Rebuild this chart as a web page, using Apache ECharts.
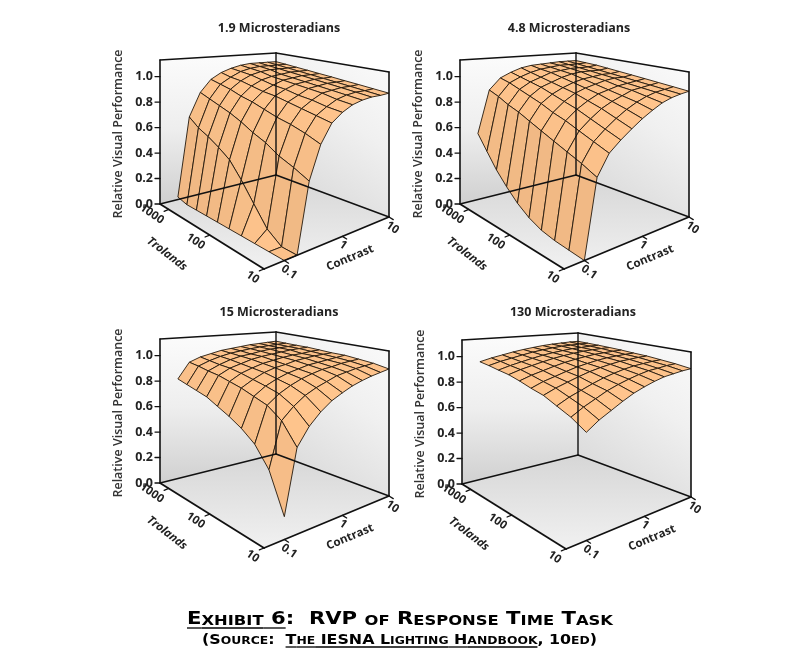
<!DOCTYPE html>
<html>
<head>
<meta charset="utf-8">
<title>RVP of Response Time Task</title>
<script src="https://cdn.jsdelivr.net/npm/echarts@6.0.0/dist/echarts.min.js"></script>
<style>
html,body{margin:0;padding:0;background:#ffffff;}
#chart{width:800px;height:659px;}
</style>
</head>
<body>
<div id="chart"></div>
<script>
// ---------------- DATA ----------------
// grid rows: log10(trolands); grid columns: log10(contrast)
const TROLAND_LOG = [1, 1.25, 1.5, 1.75, 2, 2.25, 2.5, 2.75, 3, 3.25];
const CONTRAST_LOG = [-1, -0.8, -0.6, -0.4, -0.2, 0, 0.2, 0.4, 0.6, 0.8, 1];

const PANEL_TITLES = ['1.9 Microsteradians', '4.8 Microsteradians', '15 Microsteradians', '130 Microsteradians'];

// Relative Visual Performance, one row per troland value, one column per contrast value
const RVP_1_9 = [
  [0.00, 0.00, 0.47, 0.70, 0.83, 0.89, 0.93, 0.95, 0.96, 0.96, 0.965],
  [0.00, 0.00, 0.52, 0.74, 0.85, 0.90, 0.94, 0.96, 0.97, 0.97, 0.974],
  [0.00, 0.07, 0.56, 0.77, 0.87, 0.92, 0.96, 0.97, 0.98, 0.98, 0.984],
  [0.00, 0.20, 0.62, 0.79, 0.89, 0.93, 0.97, 0.98, 0.99, 0.99, 0.993],
  [0.00, 0.33, 0.66, 0.82, 0.91, 0.95, 0.98, 0.99, 1.00, 1.00, 1.003],
  [0.00, 0.44, 0.71, 0.85, 0.92, 0.96, 0.99, 1.00, 1.01, 1.01, 1.012],
  [0.00, 0.50, 0.75, 0.87, 0.94, 0.98, 1.00, 1.01, 1.02, 1.02, 1.022],
  [0.00, 0.55, 0.78, 0.90, 0.96, 1.00, 1.02, 1.03, 1.03, 1.03, 1.031],
  [0.00, 0.59, 0.81, 0.92, 0.97, 1.01, 1.03, 1.04, 1.04, 1.04, 1.041],
  [0.02, 0.65, 0.84, 0.94, 0.99, 1.02, 1.04, 1.05, 1.05, 1.05, 1.050]
];
const RVP_4_8 = [
  [0.00, 0.52, 0.66, 0.73, 0.79, 0.845, 0.89, 0.93, 0.955, 0.97, 0.98],
  [0.01, 0.57, 0.70, 0.77, 0.83, 0.88, 0.92, 0.95, 0.97, 0.98, 0.99],
  [0.02, 0.61, 0.74, 0.81, 0.87, 0.91, 0.94, 0.97, 0.98, 0.99, 1.00],
  [0.04, 0.65, 0.78, 0.85, 0.90, 0.94, 0.96, 0.98, 0.99, 1.00, 1.01],
  [0.08, 0.69, 0.81, 0.88, 0.93, 0.96, 0.98, 1.00, 1.01, 1.01, 1.02],
  [0.14, 0.73, 0.85, 0.91, 0.95, 0.98, 1.00, 1.01, 1.02, 1.02, 1.03],
  [0.22, 0.77, 0.88, 0.94, 0.97, 1.00, 1.02, 1.03, 1.03, 1.03, 1.04],
  [0.31, 0.80, 0.91, 0.96, 0.99, 1.02, 1.03, 1.04, 1.04, 1.04, 1.05],
  [0.42, 0.84, 0.94, 0.98, 1.01, 1.03, 1.04, 1.05, 1.05, 1.05, 1.055],
  [0.53, 0.87, 0.96, 1.00, 1.03, 1.045, 1.05, 1.055, 1.06, 1.06, 1.06]
];
const RVP_15 = [
  [0.15, 0.58, 0.70, 0.78, 0.84, 0.88, 0.915, 0.94, 0.96, 0.975, 0.99],
  [0.41, 0.72, 0.80, 0.86, 0.90, 0.93, 0.96, 0.975, 0.99, 1.00, 1.01],
  [0.54, 0.79, 0.855, 0.90, 0.935, 0.96, 0.98, 0.99, 1.005, 1.013, 1.02],
  [0.61, 0.82, 0.88, 0.92, 0.95, 0.97, 0.99, 1.00, 1.01, 1.02, 1.03],
  [0.66, 0.85, 0.90, 0.94, 0.965, 0.98, 1.00, 1.01, 1.02, 1.025, 1.03],
  [0.70, 0.87, 0.92, 0.95, 0.975, 0.99, 1.005, 1.015, 1.02, 1.03, 1.035],
  [0.74, 0.89, 0.935, 0.96, 0.985, 1.00, 1.01, 1.02, 1.03, 1.035, 1.04],
  [0.76, 0.90, 0.94, 0.97, 0.99, 1.00, 1.015, 1.025, 1.03, 1.035, 1.04],
  [0.78, 0.915, 0.95, 0.976, 0.995, 1.007, 1.018, 1.026, 1.032, 1.037, 1.042],
  [0.80, 0.925, 0.96, 0.98, 1.00, 1.01, 1.02, 1.03, 1.035, 1.04, 1.045]
];
const RVP_130 = [
  [0.71, 0.77, 0.815, 0.86, 0.90, 0.93, 0.955, 0.975, 0.985, 0.995, 1.00],
  [0.77, 0.82, 0.86, 0.90, 0.93, 0.955, 0.976, 0.993, 1.00, 1.01, 1.014],
  [0.81, 0.854, 0.887, 0.92, 0.949, 0.971, 0.99, 1.004, 1.012, 1.019, 1.023],
  [0.85, 0.887, 0.916, 0.944, 0.969, 0.988, 1.003, 1.016, 1.022, 1.029, 1.032],
  [0.87, 0.905, 0.93, 0.956, 0.979, 0.996, 1.011, 1.022, 1.028, 1.033, 1.036],
  [0.895, 0.925, 0.948, 0.971, 0.991, 1.006, 1.019, 1.029, 1.034, 1.039, 1.042],
  [0.915, 0.942, 0.963, 0.983, 1.001, 1.015, 1.026, 1.035, 1.04, 1.044, 1.046],
  [0.925, 0.95, 0.97, 0.989, 1.006, 1.019, 1.029, 1.038, 1.042, 1.047, 1.049],
  [0.937, 0.961, 0.978, 0.996, 1.012, 1.024, 1.034, 1.042, 1.045, 1.049, 1.051],
  [0.946, 0.968, 0.985, 1.002, 1.016, 1.027, 1.037, 1.044, 1.048, 1.052, 1.053]
];

const Z_TICKS = [0, 0.2, 0.4, 0.6, 0.8, 1.0];
const TROLAND_TICKS = [10, 100, 1000];
const CONTRAST_TICKS = [0.1, 1, 10];
const Z_TITLE = 'Relative Visual Performance';
const TROLAND_TITLE = 'Trolands';
const CONTRAST_TITLE = 'Contrast';
const CAPTION_1 = [['Exhibit 6', true], [':  RVP of Response Time Task', false]];
const CAPTION_2 = [['(Source:  ', false], ['The IESNA Lighting Handbook', true], [', 10ed)', false]];

// ---------------- LAYOUT (positions / sizes / styles) ----------------
const GRIDS = [RVP_1_9, RVP_4_8, RVP_15, RVP_130];
const TROLAND_DOMAIN = [1, 3.25];
const CONTRAST_DOMAIN = [-1.3, 1.0];
const Z_MAX = 1.13;
// box corners of panel 1 (floor), and wall heights at the three visible verticals
const BOX = { F: [264, 269], L: [160, 204], R: [389, 217], B: [276, 175], hL: 144, hR: 145, hB: 122 };
const OFFSETS = [[0, 0], [300, 0], [0, 279], [302, 280]];
const TITLE_POS = [[279, 28], [269, 28], [279, 33], [271, 32]];
const FONT = '"Open Sans", "Liberation Sans", sans-serif';
const TEXT_COLOR = '#222';

function homography(F, L, R, B) {
  const dx1 = L[0] - B[0], dx2 = R[0] - B[0], dx3 = F[0] - L[0] + B[0] - R[0];
  const dy1 = L[1] - B[1], dy2 = R[1] - B[1], dy3 = F[1] - L[1] + B[1] - R[1];
  const det = dx1 * dy2 - dx2 * dy1;
  const g = (dx3 * dy2 - dx2 * dy3) / det;
  const h = (dx1 * dy3 - dx3 * dy1) / det;
  const a = L[0] - F[0] + g * L[0], b = R[0] - F[0] + h * R[0];
  const d = L[1] - F[1] + g * L[1], e = R[1] - F[1] + h * R[1];
  return function (u, v) {
    const w = 1 + g * u + h * v;
    return [(F[0] + a * u + b * v) / w, (F[1] + d * u + e * v) / w];
  };
}
const floorMap = homography(BOX.F, BOX.L, BOX.R, BOX.B);
const hBeta = 1 / BOX.hB - 1 / BOX.hR;
const hGamma = 1 / BOX.hB - 1 / BOX.hL;
const hAlpha = 1 / BOX.hL - hBeta;
function heightPx(u, v) { return 1 / (hAlpha + hBeta * u + hGamma * v); }
function uOf(logT) { return (logT - TROLAND_DOMAIN[0]) / (TROLAND_DOMAIN[1] - TROLAND_DOMAIN[0]); }
function vOf(logC) { return (logC - CONTRAST_DOMAIN[0]) / (CONTRAST_DOMAIN[1] - CONTRAST_DOMAIN[0]); }
function project(p, u, v, z) {
  const f = floorMap(u, v);
  const o = OFFSETS[p];
  return [f[0] + o[0], f[1] - (z / Z_MAX) * heightPx(u, v) + o[1]];
}

function textEl(str, x, y, rot, align, font, vAlign, color) {
  return {
    type: 'text', x: x, y: y, rotation: rot || 0,
    style: {
      text: str, font: font, fill: color || TEXT_COLOR,
      align: align, textAlign: align,
      verticalAlign: vAlign || 'middle', textVerticalAlign: vAlign || 'middle'
    }
  };
}
function lineEl(a, b, w, color) {
  return { type: 'line', shape: { x1: a[0], y1: a[1], x2: b[0], y2: b[1] },
           style: { stroke: color || '#111', lineWidth: w, lineCap: 'round' } };
}
function unit(a, b) { const dx = b[0] - a[0], dy = b[1] - a[1]; const l = Math.hypot(dx, dy); return [dx / l, dy / l]; }

// ---------------- RENDERERS ----------------
function renderWalls(params, api) {
  const p = api.value(0);
  const P = (u, v, z) => api.coord(project(p, u, v, z));
  const Lb = P(1, 0, 0), Lt = P(1, 0, Z_MAX), Bb = P(1, 1, 0), Bt = P(1, 1, Z_MAX);
  const Rb = P(0, 1, 0), Rt = P(0, 1, Z_MAX), Fb = P(0, 0, 0);
  const G = echarts.graphic.LinearGradient;
  return {
    type: 'group', children: [
      { type: 'polygon', shape: { points: [Lb, Bb, Bt, Lt] },
        style: { fill: new G(0, 0, 0, 1, [{ offset: 0, color: '#fcfcfc' }, { offset: 0.5, color: '#eeeeee' }, { offset: 1, color: '#d0d0d0' }]) } },
      { type: 'polygon', shape: { points: [Bb, Rb, Rt, Bt] },
        style: { fill: new G(0, 1, 1, 0, [{ offset: 0, color: '#d4d4d4' }, { offset: 0.6, color: '#f0f0f0' }, { offset: 1, color: '#fbfbfb' }]) } },
      { type: 'polygon', shape: { points: [Lb, Bb, Rb, Fb] },
        style: { fill: new G(0, 0, 0, 1, [{ offset: 0, color: '#d6d6d6' }, { offset: 1, color: '#f1f1f1' }]) } }
    ]
  };
}

function renderQuad(params, api) {
  const p = api.value(0);
  const t0 = api.value(1), t1 = api.value(2), c0 = api.value(3), c1 = api.value(4);
  const z00 = api.value(5), z10 = api.value(6), z01 = api.value(7), z11 = api.value(8);
  const u0 = uOf(t0), u1 = uOf(t1), v0 = vOf(c0), v1 = vOf(c1);
  const pts = [
    api.coord(project(p, u0, v0, z00)),
    api.coord(project(p, u1, v0, z10)),
    api.coord(project(p, u1, v1, z11)),
    api.coord(project(p, u0, v1, z01))
  ];
  // simple lambert shading in box space
  const du = u1 - u0, dv = v1 - v0;
  const a = ((z10 - z00) + (z11 - z01)) / 2 / Z_MAX;
  const b = ((z01 - z00) + (z11 - z10)) / 2 / Z_MAX;
  let nx = -a * dv, ny = -du * b, nz = du * dv;
  const nl = Math.hypot(nx, ny, nz); nx /= nl; ny /= nl; nz /= nl;
  const lx = -0.45, ly = -0.35, lz = 0.82; const ll = Math.hypot(lx, ly, lz);
  const dot = Math.max(0, (nx * lx + ny * ly + nz * lz) / ll);
  const k = 0.88 + 0.12 * dot;
  const col = 'rgb(' + Math.min(255, Math.round(256 * k)) + ',' + Math.round(197 * k) + ',' + Math.round(141 * k) + ')';
  return { type: 'polygon', shape: { points: pts },
           style: { fill: col, stroke: '#24180c', lineWidth: 0.9, lineJoin: 'round' } };
}

function renderFrame(params, api) {
  const p = api.value(0);
  const o = OFFSETS[p];
  const P = (u, v, z) => api.coord(project(p, u, v, z));
  const A = (x, y) => api.coord([o[0] + x, o[1] + y]);
  const Lb = P(1, 0, 0), Lt = P(1, 0, Z_MAX), Bb = P(1, 1, 0), Bt = P(1, 1, Z_MAX);
  const Rb = P(0, 1, 0), Rt = P(0, 1, Z_MAX), Fb = P(0, 0, 0);
  const ch = [
    lineEl(Lb, Lt, 1.6), lineEl(Bb, Bt, 1.4), lineEl(Rb, Rt, 1.6),
    lineEl(Lt, Bt, 1.4), lineEl(Bt, Rt, 1.4),
    lineEl(Lb, Bb, 1.5), lineEl(Bb, Rb, 1.5),
    lineEl(Lb, Fb, 1.8), lineEl(Fb, Rb, 1.8)
  ];
  const zFont = 'bold 12.5px ' + FONT;
  Z_TICKS.forEach(t => {
    const q = P(1, 0, t);
    ch.push(lineEl([q[0] - 5, q[1]], q, 1.3));
    ch.push(textEl(t.toFixed(1), q[0] - 7, q[1], 0, 'right', zFont));
  });
  const tickFont = 'bold 11.5px ' + FONT;
  const outT = unit(Rb, Fb);
  TROLAND_TICKS.forEach(t => {
    const q = P(uOf(Math.log10(t)), 0, 0);
    ch.push(lineEl(q, [q[0] + outT[0] * 5, q[1] + outT[1] * 5], 1.3));
    ch.push(textEl(String(t), q[0] - 6, q[1] + 12, -0.6, 'right', tickFont));
  });
  const outC = unit(Lb, Fb);
  CONTRAST_TICKS.forEach(c => {
    const q = P(0, vOf(Math.log10(c)), 0);
    ch.push(lineEl(q, [q[0] + outC[0] * 5, q[1] + outC[1] * 5], 1.3));
    ch.push(textEl(String(c), q[0] - 2, q[1] + 7, -0.6, 'left', tickFont));
  });
  const tp = TITLE_POS[p];
  const tpos = A(tp[0], tp[1]);
  ch.push(textEl(PANEL_TITLES[p], tpos[0], tpos[1], 0, 'center', 'bold 12.5px ' + FONT));
  const zt = A(118, 134);
  ch.push(textEl(Z_TITLE, zt[0], zt[1], Math.PI / 2, 'center', '600 12.5px ' + FONT, 'middle', '#333'));
  const tt = A(167, 254);
  ch.push(textEl(TROLAND_TITLE, tt[0], tt[1], -0.66, 'center', 'italic bold 11.5px ' + FONT));
  const ct = A(350, 258);
  ch.push(textEl(CONTRAST_TITLE, ct[0], ct[1], 0.4, 'center', 'bold 11.5px ' + FONT));
  return { type: 'group', children: ch };
}

function surfaceItems(p) {
  const grid = GRIDS[p];
  const items = [];
  for (let i = 0; i < TROLAND_LOG.length - 1; i++) {
    for (let j = 0; j < CONTRAST_LOG.length - 1; j++) {
      items.push([p, TROLAND_LOG[i], TROLAND_LOG[i + 1], CONTRAST_LOG[j], CONTRAST_LOG[j + 1],
                  grid[i][j], grid[i + 1][j], grid[i][j + 1], grid[i + 1][j + 1]]);
    }
  }
  const depth = it => uOf((it[1] + it[2]) / 2) * 0.375 + vOf((it[3] + it[4]) / 2) * 0.29;
  items.sort((A, B) => depth(B) - depth(A));
  return items;
}

// ---------------- CAPTION ----------------
const mctx = document.createElement('canvas').getContext('2d');
function measure(str, font) { mctx.font = font; return mctx.measureText(str).width; }
function capsRuns(parts, big, small) {
  const runs = [];
  parts.forEach(([txt, ul]) => {
    for (const ch of txt) {
      const isSmall = ch >= 'a' && ch <= 'z';
      const size = isSmall ? small : big;
      const last = runs[runs.length - 1];
      if (last && last.size === size && last.ul === ul) last.text += ch.toUpperCase();
      else runs.push({ text: ch.toUpperCase(), size: size, ul: ul });
    }
  });
  return runs;
}
function captionLine(parts, big, small, left, baseline, targetW) {
  const fam = '"DejaVu Sans", "Liberation Sans", sans-serif';
  const runs = capsRuns(parts, big, small);
  let x = 0; const children = [];
  runs.forEach(r => {
    const font = 'bold ' + r.size + 'px ' + fam;
    const w = measure(r.text, font);
    children.push({ type: 'text', x: x, y: baseline - 0.36 * r.size,
      style: { text: r.text, font: font, fill: '#000', align: 'left', textAlign: 'left', verticalAlign: 'middle', textVerticalAlign: 'middle' } });
    if (r.ul) children.push({ type: 'line', shape: { x1: x, y1: baseline + 2, x2: x + w, y2: baseline + 2 }, style: { stroke: '#000', lineWidth: 1.3 } });
    x += w;
  });
  return { type: 'group', x: left, y: 0, scaleX: targetW / x, children: children };
}

// ---------------- CHART ----------------
const chart = echarts.init(document.getElementById('chart'), null, { renderer: 'canvas' });
const series = [];
for (let p = 0; p < 4; p++) {
  series.push({ type: 'custom', z: 1, silent: true, clip: false, data: [[p, 0]], renderItem: renderWalls });
  series.push({ type: 'custom', z: 2, silent: true, clip: false, data: surfaceItems(p), renderItem: renderQuad });
  series.push({ type: 'custom', z: 3, silent: true, clip: false, data: [[p, 0]], renderItem: renderFrame });
}
chart.setOption({
  backgroundColor: '#ffffff',
  animation: false,
  grid: { left: 0, right: 0, top: 0, bottom: 0 },
  xAxis: { type: 'value', min: 0, max: 800, show: false },
  yAxis: { type: 'value', min: 0, max: 659, inverse: true, show: false },
  graphic: [
    captionLine(CAPTION_1, 17.5, 13.5, 187, 626, 426),
    captionLine(CAPTION_2, 13.5, 10.5, 202, 645, 395)
  ],
  series: series
});
</script>
</body>
</html>
